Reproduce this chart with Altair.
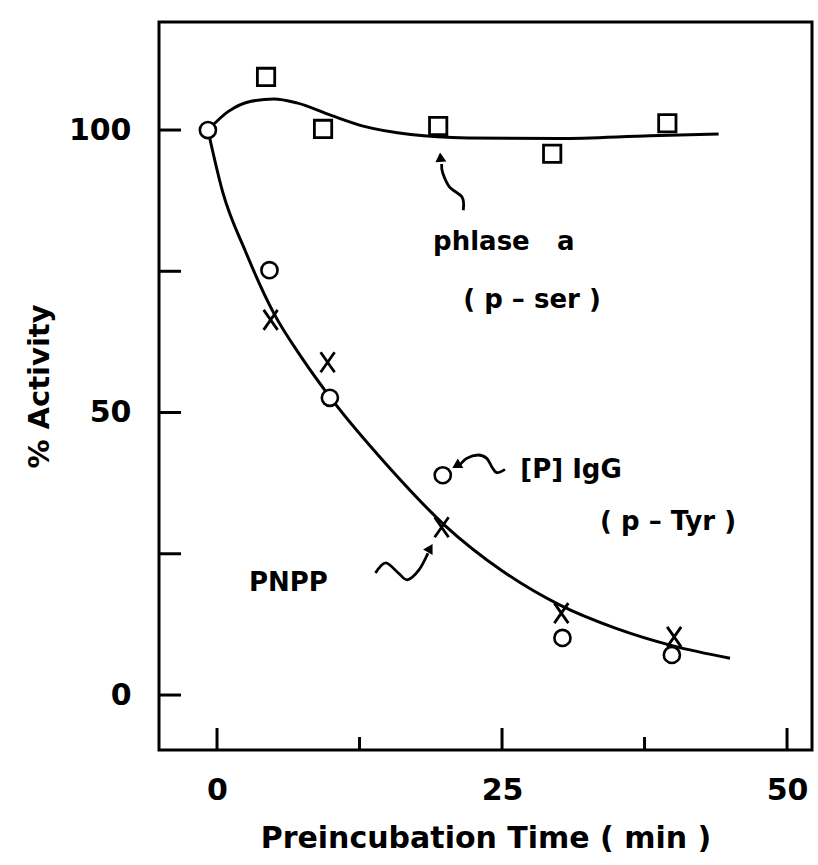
import altair as alt
import pandas as pd

# ---------------- data ----------------
# [P] IgG (p-Tyr) : open circles
igg_t = [-0.8, 4.6, 9.9, 19.8, 30.3, 39.9]
igg_v = [100.0, 75.2, 52.6, 38.9, 10.1, 7.1]
# PNPP : crosses
pnpp_t = [4.7, 9.7, 19.7, 30.2, 40.1]
pnpp_v = [66.4, 58.9, 29.7, 14.5, 10.3]
# Phlase a (p-ser) : open squares
phl_t = [4.3, 9.3, 19.4, 29.4, 39.5]
phl_v = [109.4, 100.2, 100.7, 95.8, 101.2]

# hand-drawn fitted curves
tyr_curve_t = [-0.8, 0.5, 2.5, 5.0, 7.5, 10.0, 15.0, 20.0, 25.0, 30.0, 35.0, 40.0, 45.0]
tyr_curve_v = [100.0, 89.0, 78.5, 67.5, 59.5, 52.5, 40.5, 30.0, 22.0, 16.0, 11.8, 8.7, 6.5]
ser_curve_t = [-0.8, 1.0, 3.0, 5.0, 7.0, 10.0, 13.0, 17.0, 22.0, 30.0, 38.0, 44.0]
ser_curve_v = [100.0, 103.3, 105.1, 105.5, 104.8, 102.6, 100.6, 99.2, 98.6, 98.5, 99.0, 99.3]

# axis ticks
x_major = [0, 25, 50]
x_minor = [12.5, 37.5]
y_ticks = [0, 25, 50, 75, 100]

# annotations
NB = "\u00a0"
note_text = ["phlase" + NB * 3 + "a", "( p – ser )", "[P] IgG", "(" + NB + "p – Tyr" + NB + ")", "PNPP"]
note_t = [18.95, 21.6, 26.6, 33.6, 2.8]
note_v = [80.2, 69.9, 39.8, 30.6, 19.8]

# squiggly arrows
arr_ser_t = [19.7, 19.8, 20.4, 21.5, 21.6]
arr_ser_v = [94.0, 92.4, 89.9, 88.1, 85.8]
arr_igg_t = [21.17, 21.90, 22.92, 23.66, 24.10, 24.53, 25.26]
arr_igg_v = [40.41, 41.89, 42.48, 41.89, 40.41, 39.35, 39.94]
arr_pnpp_t = [13.9, 14.8, 15.9, 16.7, 17.7, 18.5]
arr_pnpp_v = [21.6, 23.4, 21.6, 20.4, 22.1, 25.1]
head_t = [19.6, 21.0, 18.7]
head_v = [95.2, 40.6, 26.0]
head_angle = [355, 240, 30]

# ---------------- build tables ----------------
curves = pd.concat([
    pd.DataFrame({"t": tyr_curve_t, "v": tyr_curve_v, "s": "tyr"}),
    pd.DataFrame({"t": ser_curve_t, "v": ser_curve_v, "s": "ser"}),
])
arrows = pd.concat([
    pd.DataFrame({"t": arr_ser_t, "v": arr_ser_v, "s": "a1", "i": range(len(arr_ser_t))}),
    pd.DataFrame({"t": arr_igg_t, "v": arr_igg_v, "s": "a2", "i": range(len(arr_igg_t))}),
    pd.DataFrame({"t": arr_pnpp_t, "v": arr_pnpp_v, "s": "a3", "i": range(len(arr_pnpp_t))}),
])
heads = pd.DataFrame({"t": head_t, "v": head_v, "a": head_angle})
igg = pd.DataFrame({"t": igg_t, "v": igg_v})
pnpp = pd.DataFrame({"t": pnpp_t, "v": pnpp_v})
phl = pd.DataFrame({"t": phl_t, "v": phl_v})
xtm = pd.DataFrame({"t": x_major})
xtn = pd.DataFrame({"t": x_minor})
yt = pd.DataFrame({"v": y_ticks})
notes = pd.DataFrame({"txt": note_text, "t": note_t, "v": note_v})

FONT = "DejaVu Sans"
W, H = 653, 728
xs = alt.Scale(domain=[-5.09, 52.19], nice=False, zero=False)
ys = alt.Scale(domain=[-9.73, 119.12], nice=False, zero=False)

x_axis = alt.Axis(values=x_major, ticks=False, domain=False, grid=False, labelFont=FONT,
                  labelFontSize=30, labelFontWeight="bold", labelColor="black", labelPadding=25,
                  title="Preincubation Time ( min )", titleFont=FONT, titleFontSize=30,
                  titleFontWeight="bold", titleColor="black", titlePadding=18)
y_axis = alt.Axis(values=[0, 50, 100], ticks=False, domain=False, grid=False, labelFont=FONT,
                  labelFontSize=30, labelFontWeight="bold", labelColor="black", labelPadding=28,
                  title="% Activity", titleFont=FONT, titleFontSize=29,
                  titleFontWeight="bold", titleColor="black", titlePadding=14)

X = alt.X("t:Q", scale=xs, axis=x_axis)
Y = alt.Y("v:Q", scale=ys, axis=y_axis)

lines = alt.Chart(curves).mark_line(color="black", strokeWidth=3, interpolate="monotone").encode(
    x=X, y=Y, detail="s:N")

circ = alt.Chart(igg).mark_point(shape="circle", filled=False, fill="white", fillOpacity=1,
                                 opacity=1, size=260, strokeWidth=2.6, color="black").encode(x=X, y=Y)
sq = alt.Chart(phl).mark_point(shape="square", filled=False, fill="white", fillOpacity=1,
                               opacity=1, size=300, strokeWidth=2.8, color="black").encode(x=X, y=Y)
crs = alt.Chart(pnpp).mark_point(shape="M-0.7,-1L0.7,1M0.7,-1L-0.7,1", filled=False, opacity=1,
                                 size=400, strokeWidth=2.8, color="black").encode(x=X, y=Y)

xtick_major = alt.Chart(xtm).mark_rule(color="black", strokeWidth=3).encode(
    x=X, y=alt.value(H), y2=alt.value(H - 22))
xtick_minor = alt.Chart(xtn).mark_rule(color="black", strokeWidth=3).encode(
    x=X, y=alt.value(H), y2=alt.value(H - 13))
ytick = alt.Chart(yt).mark_rule(color="black", strokeWidth=3).encode(
    y=Y, x=alt.value(0), x2=alt.value(22))

txt = alt.Chart(notes).mark_text(font=FONT, fontSize=26, fontWeight="bold", align="left",
                                 baseline="middle", color="black").encode(x=X, y=Y, text="txt:N")

arr = alt.Chart(arrows).mark_line(color="black", strokeWidth=2.8, interpolate="cardinal").encode(
    x=X, y=Y, detail="s:N", order="i:Q")
hd = alt.Chart(heads).mark_point(shape="triangle-up", filled=True, size=120, color="black",
                                 opacity=1).encode(x=X, y=Y, angle=alt.Angle("a:Q", scale=None))

chart = alt.layer(lines, xtick_major, xtick_minor, ytick, arr, hd, circ, sq, crs, txt).properties(
    width=W, height=H,
    autosize=alt.AutoSizeParams(type="none"),
    padding={"left": 159, "top": 22, "right": 6, "bottom": 115},
    background="white",
).configure_view(stroke="black", strokeWidth=3)

chart.save("out.html", embed_options={"renderer": "svg", "actions": False})
